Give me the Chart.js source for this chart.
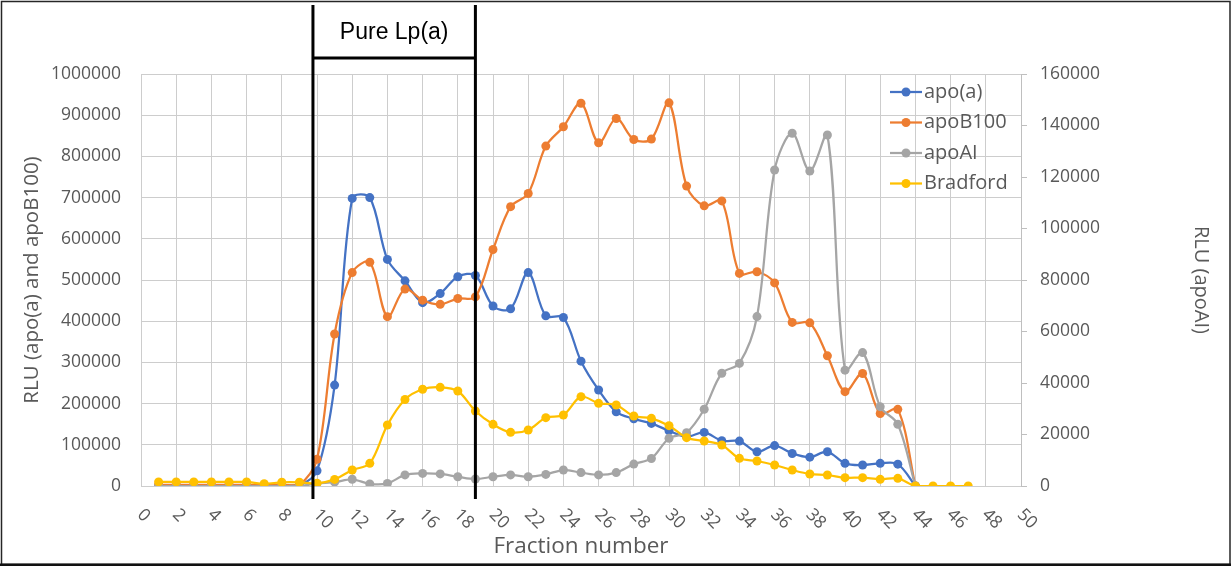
<!DOCTYPE html>
<html>
<head>
<meta charset="utf-8">
<script src="https://cdn.jsdelivr.net/npm/chart.js@4.4.1/dist/chart.umd.min.js"></script>
<style>
    html, body { margin: 0; background: #fff; }
    canvas { display: block; }
</style>
</head>
<body>
<canvas id="myChart" width="1231" height="567"></canvas>
<script>
// Data
const fractions = [
    1, 2, 3, 4, 5, 6, 7, 8, 9, 10, 11, 12, 13, 14, 15, 16, 17, 18, 19, 20,
    21, 22, 23, 24, 25, 26, 27, 28, 29, 30, 31, 32, 33, 34, 35, 36, 37, 38, 39, 40,
    41, 42, 43, 44, 45, 46, 47];
const apoA = [
    1000, 1000, 1000, 1000, 1000, 1000, 1000, 1000, 2000, 37000,
    245000, 698000, 700000, 550000, 498000, 445000, 467000, 508000, 511000, 437000,
    430000, 518000, 413000, 409000, 303000, 233000, 180000, 163000, 152000, 134000,
    120000, 130000, 110000, 109000, 83000, 98000, 79000, 70000, 83000, 55000,
    51000, 55000, 53000, 0];
const apoB100 = [
    3000, 3000, 3000, 3000, 3000, 3000, 3000, 3000, 3000, 65000,
    369000, 518000, 543000, 411000, 478000, 451000, 441000, 455000, 459000, 574000,
    678000, 710000, 825000, 872000, 929000, 833000, 892000, 841000, 842000, 930000,
    728000, 680000, 692000, 516000, 520000, 493000, 397000, 396000, 316000, 229000,
    273000, 176000, 186000, 0];
const apoAI = [
    0, 0, 0, 0, 0, 0, 0, 0, 0, 1000,
    1500, 2600, 800, 1000, 4300, 4900, 4700, 3600, 2700, 3600,
    4300, 3600, 4500, 6200, 5200, 4300, 5200, 8500, 10700, 18500,
    20700, 29800, 43800, 47600, 65800, 122700, 137000, 122300, 136300, 45000,
    51800, 30800, 24000, 0];
const bradford = [
    10000, 10000, 10000, 10000, 10000, 10000, 5500, 9000, 9000, 6500,
    16000, 38800, 55000, 148000, 210000, 234700, 239500, 230500, 182000, 149700,
    130300, 136000, 165800, 172300, 216800, 200700, 196600, 169900, 164300, 146400,
    117300, 109200, 99500, 67200, 60700, 51000, 38800, 29100, 26700, 20200,
    20200, 16200, 18600, 0, 0, 0, 0];
const seriesNames = ['apo(a)', 'apoB100', 'apoAI', 'Bradford'];
const seriesColors = ['#4472C4', '#ED7D31', '#A5A5A5', '#FFC000'];
const xTicks = [0, 2, 4, 6, 8, 10, 12, 14, 16, 18, 20, 22, 24, 26, 28, 30, 32, 34, 36, 38, 40, 42, 44, 46, 48, 50];
const leftTicks = [0, 100000, 200000, 300000, 400000, 500000, 600000, 700000, 800000, 900000, 1000000];
const rightTicks = [0, 20000, 40000, 60000, 80000, 100000, 120000, 140000, 160000];
const pureRange = [9.77, 19];

const gridColor = '#cdcdcd';
const textColor = '#595959';
const tickFont = { family: 'Open Sans', size: 17.5 };

function points(values) {
    return values.map((v, i) => ({ x: fractions[i], y: v }));
}

function series(index, values, axis, order) {
    const color = seriesColors[index];
    return {
        label: seriesNames[index],
        data: points(values),
        yAxisID: axis,
        order: order,
        borderColor: color,
        backgroundColor: color,
        pointBackgroundColor: color,
        pointBorderColor: color,
        borderWidth: 2.25,
        pointRadius: 4.5,
        pointBorderWidth: 0,
        tension: 0.33,
        fill: false
    };
}

// extra drawing: frame, Pure Lp(a) box, rotated x labels, legend
const extras = {
    id: 'extras',
    afterDatasetsDraw: (chart) => {
        const { ctx, scales } = chart;
        const x = scales.x;
        ctx.save();
        // x tick labels, rotated clockwise
        ctx.fillStyle = textColor;
        ctx.font = '17.5px "Open Sans"';
        ctx.textAlign = 'left';
        ctx.textBaseline = 'middle';
        xTicks.forEach((t) => {
            ctx.save();
            ctx.translate(x.getPixelForValue(t) - 1, 512);
            ctx.rotate(Math.PI / 4);
            ctx.fillText(String(t), 0, 0);
            ctx.restore();
        });
        // Pure Lp(a) bracket
        const x1 = x.getPixelForValue(pureRange[0]);
        const x2 = x.getPixelForValue(pureRange[1]);
        ctx.strokeStyle = '#000';
        ctx.lineWidth = 3;
        ctx.beginPath();
        ctx.moveTo(x1, 5);
        ctx.lineTo(x1, 499);
        ctx.moveTo(x2, 5);
        ctx.lineTo(x2, 499);
        ctx.moveTo(x1, 58);
        ctx.lineTo(x2, 58);
        ctx.stroke();
        ctx.fillStyle = '#000';
        ctx.font = '23px "Liberation Sans"';
        ctx.textAlign = 'center';
        ctx.fillText('Pure Lp(a)', (x1 + x2) / 2, 33);
        ctx.restore();
    },
    afterDraw: (chart) => {
        const { ctx } = chart;
        ctx.save();
        // legend
        ctx.font = '20px "Open Sans"';
        ctx.textAlign = 'left';
        ctx.textBaseline = 'middle';
        seriesNames.forEach((name, i) => {
            const y = 92 + i * 30.5;
            ctx.strokeStyle = seriesColors[i];
            ctx.fillStyle = seriesColors[i];
            ctx.lineWidth = 2.25;
            ctx.beginPath();
            ctx.moveTo(890, y);
            ctx.lineTo(922, y);
            ctx.stroke();
            ctx.beginPath();
            ctx.arc(906, y, 4.5, 0, Math.PI * 2);
            ctx.fill();
            ctx.fillStyle = textColor;
            ctx.fillText(name, 924, y);
        });
        // outer frame
        ctx.strokeStyle = '#262626';
        ctx.lineWidth = 1.5;
        ctx.strokeRect(1.5, 1.5, 1228.5, 563);
        ctx.fillStyle = '#111';
        ctx.fillRect(0, 563.5, 1231, 2.5);
        ctx.restore();
    }
};

const ctx = document.getElementById('myChart');
const myChart = new Chart(ctx, {
    type: 'line',
    data: {
        datasets: [
            series(0, apoA, 'y', 3),
            series(1, apoB100, 'y', 2),
            series(2, apoAI, 'y2', 1),
            series(3, bradford, 'y', 0)
        ]
    },
    options: {
        responsive: false,
        animation: false,
        devicePixelRatio: 1,
        layout: { padding: { top: 74, left: 0, right: 0, bottom: 0 } },
        plugins: {
            legend: { display: false },
            tooltip: { enabled: false }
        },
        scales: {
            x: {
                type: 'linear',
                min: 0,
                max: 50,
                afterBuildTicks: (axis) => { axis.ticks = xTicks.map((v) => ({ value: v })); },
                afterFit: (axis) => { axis.height = 81; },
                ticks: { display: false },
                grid: { color: gridColor, lineWidth: 1, drawTicks: false },
                border: { display: false },
                title: {
                    display: true,
                    text: 'Fraction number',
                    color: textColor,
                    font: { family: 'Open Sans', size: 22.5 },
                    padding: { top: 0, bottom: 7 }
                }
            },
            y: {
                position: 'left',
                min: 0,
                max: 1000000,
                afterBuildTicks: (axis) => { axis.ticks = leftTicks.map((v) => ({ value: v })); },
                afterFit: (axis) => { axis.width = 141; },
                ticks: { color: textColor, font: tickFont, padding: 20, callback: (v) => String(v) },
                grid: { color: gridColor, lineWidth: 1, drawTicks: false },
                border: { display: false },
                title: {
                    display: true,
                    text: 'RLU (apo(a) and apoB100)',
                    color: textColor,
                    font: { family: 'Open Sans', size: 20.5 },
                    padding: { top: 20, bottom: 0 }
                }
            },
            y2: {
                position: 'right',
                min: 0,
                max: 160000,
                afterBuildTicks: (axis) => { axis.ticks = rightTicks.map((v) => ({ value: v })); },
                afterFit: (axis) => { axis.width = 210; },
                ticks: { color: textColor, font: tickFont, padding: 13, callback: (v) => String(v) },
                grid: { drawOnChartArea: false, color: '#bfbfbf', tickLength: 6 },
                border: { display: true, color: '#bfbfbf', width: 1 },
                title: {
                    display: true,
                    text: 'RLU (apoAI)',
                    color: textColor,
                    font: { family: 'Open Sans', size: 20 },
                    padding: { top: 18, bottom: 0 }
                }
            }
        }
    },
    plugins: [extras]
});
</script>
</body>
</html>
